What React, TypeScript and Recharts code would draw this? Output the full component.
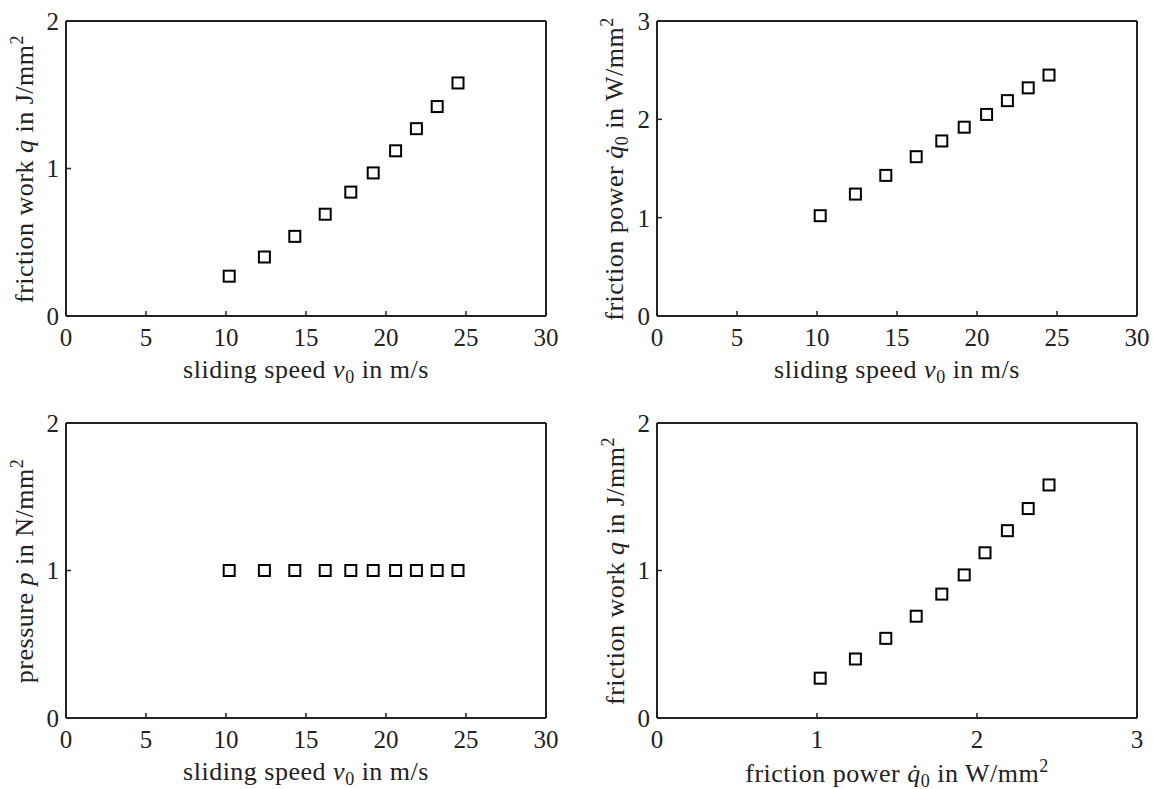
import { ScatterChart, Scatter, XAxis, YAxis } from "recharts"

// sliding speed v0 in m/s
const speed = [10.2, 12.4, 14.3, 16.2, 17.8, 19.2, 20.6, 21.9, 23.2, 24.5]
// friction work q in J/mm²
const frictionWork = [0.27, 0.40, 0.54, 0.69, 0.84, 0.97, 1.12, 1.27, 1.42, 1.58]
// friction power q̇0 in W/mm²
const frictionPower = [1.02, 1.24, 1.43, 1.62, 1.78, 1.92, 2.05, 2.19, 2.32, 2.45]
// pressure p in N/mm²
const pressure = [1, 1, 1, 1, 1, 1, 1, 1, 1, 1]

const speedTicks = [0, 5, 10, 15, 20, 25, 30]
const workTicks = [0, 1, 2]
const powerTicks = [0, 1, 2, 3]
const pressureTicks = [0, 1, 2]

const rows = speed.map((v, i) => ({
  v,
  q: frictionWork[i],
  qdot: frictionPower[i],
  p: pressure[i],
}))

const INK = "#222"
const FONT = "Liberation Serif, DejaVu Serif, serif"
const PLOT_W = 480
const PLOT_H = 295
const CHART_W = 576
const CHART_H = 394
// axis box sizes (must be > 0 or recharts skips the axis)
const AX_B = 40
const AX_L = 40
const AX_T = 1
const AX_R = 1

const tickStyle = { fontSize: 25, fill: INK, fontFamily: FONT }
const frame = { stroke: INK, strokeWidth: 2 }
const tickLn = { stroke: INK, strokeWidth: 1.5 }

function Square(props: any) {
  const { cx, cy } = props
  if (cx == null || cy == null) return <g />
  return (
    <rect x={cx - 5.5} y={cy - 5.5} width={11} height={11} fill="none" stroke="#000" strokeWidth={2} />
  )
}

function Title({ x, y, rotate, children }: any) {
  return (
    <div
      style={{
        position: "absolute",
        left: x,
        top: y,
        transform: `translate(-50%, -50%)${rotate ? " rotate(-90deg)" : ""}`,
        whiteSpace: "nowrap",
        fontFamily: FONT,
        fontSize: 26,
        letterSpacing: 0.5,
        color: INK,
        lineHeight: 1,
      }}
    >
      {children}
    </div>
  )
}

const sub = { fontSize: 18, verticalAlign: "-5px" }
const sup = { fontSize: 18, verticalAlign: "10px" }

function Panel({ left, top, plotLeft, plotTop, xKey, yKey, xTicks, yTicks, xTitle, yTitle }: any) {
  const ml = plotLeft - left
  const mt = plotTop - top
  const margin = {
    left: ml - AX_L,
    top: mt - AX_T,
    right: CHART_W - ml - PLOT_W - AX_R,
    bottom: CHART_H - mt - PLOT_H - AX_B,
  }
  const xDomain = [xTicks[0], xTicks[xTicks.length - 1]]
  const yDomain = [yTicks[0], yTicks[yTicks.length - 1]]
  return (
    <>
      <div style={{ position: "absolute", left, top }}>
        <ScatterChart width={CHART_W} height={CHART_H} margin={margin} data={rows}>
          <XAxis
            xAxisId="b"
            type="number"
            dataKey={xKey}
            domain={xDomain}
            ticks={xTicks}
            interval={0}
            height={AX_B}
            tickSize={-5}
            tickMargin={17}
            axisLine={frame}
            tickLine={tickLn}
            tick={tickStyle}
          />
          <XAxis
            xAxisId="t"
            orientation="top"
            type="number"
            dataKey={xKey}
            domain={xDomain}
            ticks={xTicks}
            interval={0}
            height={AX_T}
            tickSize={-5}
            axisLine={frame}
            tickLine={tickLn}
            tick={false}
          />
          <YAxis
            yAxisId="l"
            type="number"
            dataKey={yKey}
            domain={yDomain}
            ticks={yTicks}
            interval={0}
            width={AX_L}
            tickSize={-5}
            tickMargin={12}
            axisLine={frame}
            tickLine={tickLn}
            tick={tickStyle}
          />
          <YAxis
            yAxisId="r"
            orientation="right"
            type="number"
            dataKey={yKey}
            domain={yDomain}
            ticks={yTicks}
            interval={0}
            width={AX_R}
            tickSize={-5}
            axisLine={frame}
            tickLine={tickLn}
            tick={false}
          />
          <Scatter
            xAxisId="b"
            yAxisId="l"
            dataKey={yKey}
            shape={Square}
            isAnimationActive={false}
          />
        </ScatterChart>
      </div>
      <Title x={plotLeft + PLOT_W / 2} y={plotTop + PLOT_H + 55}>{xTitle}</Title>
      <Title x={plotLeft - 43} y={plotTop + PLOT_H / 2} rotate>{yTitle}</Title>
    </>
  )
}

const speedTitle = (
  <>sliding speed <i>v</i><span style={sub}>0</span> in m/s</>
)
const workTitle = (
  <>friction work <i>q</i> in J/mm<span style={sup}>2</span></>
)
const powerTitle = (
  <>friction power <i>q&#775;</i><span style={sub}>0</span> in W/mm<span style={sup}>2</span></>
)
const pressureTitle = (
  <>pressure <i>p</i> in N/mm<span style={sup}>2</span></>
)

export default function App() {
  return (
    <div style={{ position: "absolute", left: 0, top: 0, width: 1153, height: 789, background: "#fff", overflow: "hidden" }}>
      <Panel left={0} top={0} plotLeft={66} plotTop={21} xKey="v" yKey="q"
        xTicks={speedTicks} yTicks={workTicks} xTitle={speedTitle} yTitle={workTitle} />
      <Panel left={576} top={0} plotLeft={657} plotTop={21} xKey="v" yKey="qdot"
        xTicks={speedTicks} yTicks={powerTicks} xTitle={speedTitle} yTitle={powerTitle} />
      <Panel left={0} top={394} plotLeft={66} plotTop={423} xKey="v" yKey="p"
        xTicks={speedTicks} yTicks={pressureTicks} xTitle={speedTitle} yTitle={pressureTitle} />
      <Panel left={576} top={394} plotLeft={657} plotTop={423} xKey="qdot" yKey="q"
        xTicks={powerTicks} yTicks={workTicks} xTitle={powerTitle} yTitle={workTitle} />
    </div>
  )
}
